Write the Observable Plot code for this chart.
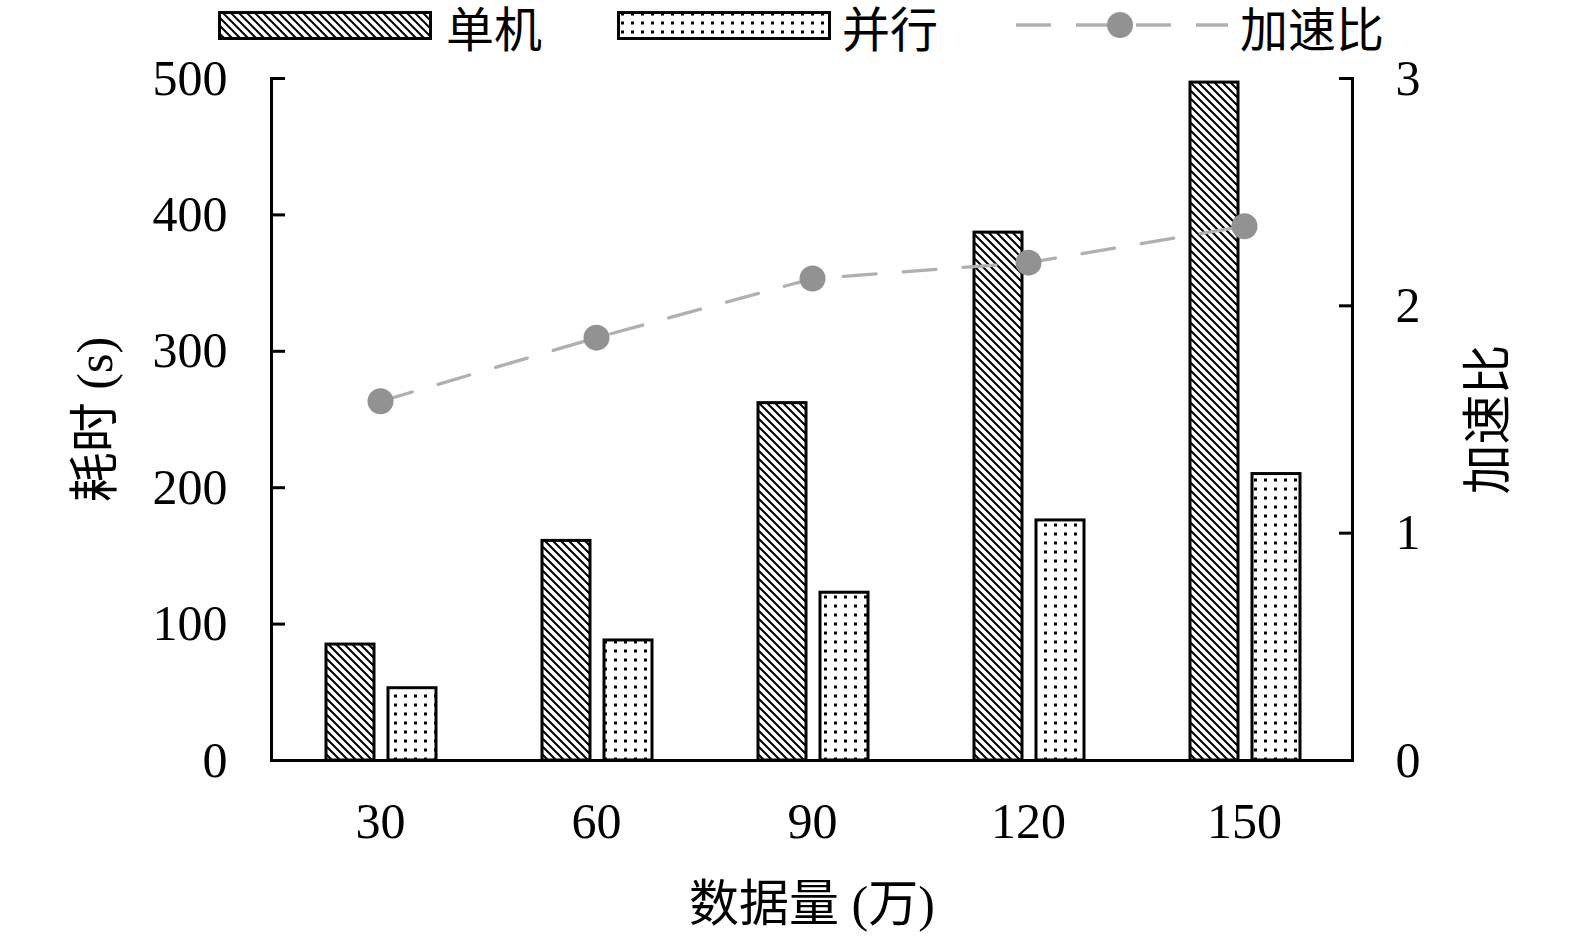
<!DOCTYPE html>
<html>
<head>
<meta charset="utf-8">
<script src="https://cdn.jsdelivr.net/npm/d3@7"></script>
<script src="https://cdn.jsdelivr.net/npm/@observablehq/plot@0.6"></script>
<style>
  html, body { margin: 0; padding: 0; background: #fff; }
  body { width: 1575px; height: 937px; overflow: hidden; font-family: "Liberation Serif", "Noto Sans CJK SC", serif; }
  #legend { position: relative; height: 52px; width: 1575px; }
  #legend .item { position: absolute; top: 0; height: 52px; display: flex; align-items: center; }
  #legend .lab { font-size: 48px; line-height: 52px; color: #000; top: 5px; }
</style>
</head>
<body>
<svg width="0" height="0" style="position:absolute">
  <defs>
    <pattern id="hatch" patternUnits="userSpaceOnUse" width="8" height="8">
      <rect width="8" height="8" fill="#fff"/>
      <path d="M0,0L8,8M-2,6L2,10M6,-2L10,2" stroke="#000" stroke-width="2"/>
    </pattern>
    <pattern id="dots" patternUnits="userSpaceOnUse" width="10" height="9">
      <rect width="10" height="9" fill="#fff"/>
      <rect x="4" y="3.5" width="3" height="3" fill="#000"/>
    </pattern>
  </defs>
</svg>
<div id="legend"></div>
<div id="chart"></div>
<script>
// ---- data ----
const categories = ["30", "60", "90", "120", "150"];
const single = [85, 161, 262, 387, 497];      // 单机 耗时 (s)
const parallel = [53, 88, 123, 176, 210];     // 并行 耗时 (s)
const speedup = [1.58, 1.86, 2.12, 2.19, 2.35]; // 加速比
const leftTicks = [0, 100, 200, 300, 400, 500];
const rightTicks = [0, 1, 2, 3];
const seriesNames = ["单机", "并行", "加速比"];

const leftMax = 500, rightMax = 3;
const toLeft = v => v * leftMax / rightMax;

const singleData = categories.map((c, i) => ({cat: c, v: single[i]}));
const parallelData = categories.map((c, i) => ({cat: c, v: parallel[i]}));
const speedData = categories.map((c, i) => ({cat: c, v: toLeft(speedup[i])}));

const W = 1575, H = 885;
const mL = 271, mR = 223, mT = 26, mB = 177;

const font = '"Liberation Serif", "Noto Sans CJK SC", serif';
const sw = 3;

const chart = Plot.plot({
  width: W,
  height: H,
  marginLeft: mL,
  marginRight: mR,
  marginTop: mT,
  marginBottom: mB,
  style: {fontFamily: font, fontSize: "50px", color: "#000", background: "#fff", overflow: "visible"},
  x: {domain: categories, padding: 0},
  y: {domain: [0, leftMax]},
  marks: [
    Plot.barY(singleData, {x: "cat", y: "v", fill: "url(#hatch)", stroke: "#000", strokeWidth: sw, insetLeft: 54, insetRight: 114}),
    Plot.barY(parallelData, {x: "cat", y: "v", fill: "url(#dots)", stroke: "#000", strokeWidth: sw, insetLeft: 116, insetRight: 52}),
    Plot.frame({anchor: "left", stroke: "#000", strokeWidth: sw}),
    Plot.frame({anchor: "right", stroke: "#000", strokeWidth: sw}),
    Plot.frame({anchor: "bottom", stroke: "#000", strokeWidth: sw}),
    Plot.axisY({anchor: "left", ticks: leftTicks, tickSize: -14, tickPadding: 58, strokeWidth: sw,
      fontSize: 50, label: "耗时 (s)", labelAnchor: "center", labelArrow: "none", labelOffset: 195}),
    Plot.axisY({anchor: "right", ticks: rightTicks.map(toLeft), tickSize: -14, tickPadding: 57, strokeWidth: sw,
      tickFormat: d => String(Math.round(d * rightMax / leftMax)), fontSize: 50,
      label: "加速比", labelAnchor: "center", labelArrow: "none", labelOffset: 152}),
    Plot.axisX({anchor: "bottom", tickSize: 0, tickPadding: 42, fontSize: 50,
      label: "数据量 (万)", labelAnchor: "center", labelArrow: "none", labelOffset: 160}),
    Plot.line(speedData, {x: "cat", y: "v", stroke: "#b0b0b0", strokeWidth: 3.3, strokeDasharray: "33,27"}),
    Plot.dot(speedData, {x: "cat", y: "v", r: 13, fill: "#929292", stroke: "none"})
  ]
});
document.getElementById("chart").appendChild(chart);

// ---- legend ----
const legend = document.getElementById("legend");
function addItem(left, swatchSvg, text, labLeft) {
  const s = document.createElement("div");
  s.className = "item";
  s.style.left = left + "px";
  s.innerHTML = swatchSvg;
  legend.appendChild(s);
  const l = document.createElement("div");
  l.className = "item lab";
  l.style.left = labLeft + "px";
  l.textContent = text;
  legend.appendChild(l);
}
addItem(218, `<svg width="214" height="52"><rect x="1.5" y="12.5" width="211" height="26" fill="url(#hatch)" stroke="#000" stroke-width="3"/></svg>`, seriesNames[0], 446);
addItem(617, `<svg width="214" height="52"><rect x="1.5" y="12.5" width="211" height="26" fill="url(#dots)" stroke="#000" stroke-width="3"/></svg>`, seriesNames[1], 842);
addItem(1016, `<svg width="214" height="52"><line x1="0" y1="25" x2="212" y2="25" stroke="#b0b0b0" stroke-width="3.3" stroke-dasharray="35,25"/><circle cx="104" cy="25" r="13" fill="#929292"/></svg>`, seriesNames[2], 1240);
</script>
</body>
</html>
